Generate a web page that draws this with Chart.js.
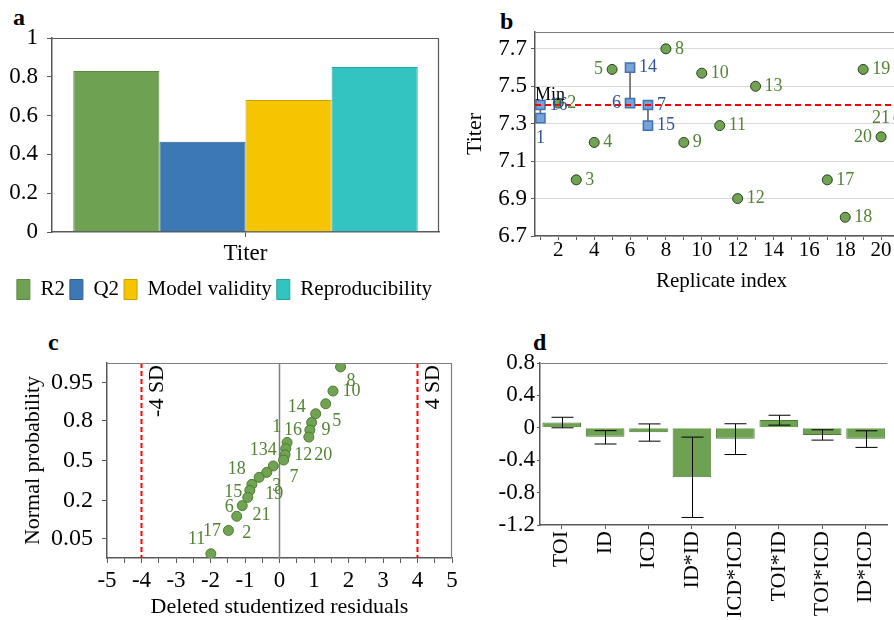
<!DOCTYPE html>
<html>
<head>
<meta charset="utf-8">
<script src="https://cdn.jsdelivr.net/npm/chart.js@4.4.1/dist/chart.umd.min.js"></script>
<style>
  html, body { margin: 0; padding: 0; background: #fff; }
  body { position: relative; width: 894px; height: 620px; overflow: hidden; font-family: 'Liberation Serif', 'Times New Roman', serif; }
  canvas { position: absolute; }
  .tag { position: absolute; font-weight: bold; font-size: 24px; line-height: 24px; }
</style>
</head>
<body>
<div class="tag" style="left:13px;top:5px">a</div>
<div class="tag" style="left:500px;top:9px">b</div>
<div class="tag" style="left:48px;top:330px">c</div>
<div class="tag" style="left:533px;top:330px">d</div>

<canvas id="fit" width="450" height="310" style="left:0;top:0"></canvas>
<canvas id="rep" width="460" height="300" style="left:460px;top:0"></canvas>
<canvas id="resid" width="470" height="290" style="left:0;top:330px"></canvas>
<canvas id="coef" width="404" height="310" style="left:490px;top:330px"></canvas>

<script>
// panel a - model summary
var fitCategories = ['Titer'];
var fitSeries = ['R2', 'Q2', 'Model validity', 'Reproducibility'];
var fitValues = [0.83, 0.465, 0.68, 0.85];
var fitTicks = [0, 0.2, 0.4, 0.6, 0.8, 1];

// panel b - replicate plot
var runIds = [2, 3, 4, 5, 8, 9, 10, 11, 12, 13, 17, 18, 19, 20, 21];
var runTiter = [7.41, 7.0, 7.2, 7.59, 7.7, 7.2, 7.57, 7.29, 6.9, 7.5, 7.0, 6.8, 7.59, 7.23, 7.33];
var repIds = [1, 16, 6, 14, 7, 15];
var repIndex = [1, 1, 6, 6, 7, 7];
var repTiter = [7.33, 7.40, 7.41, 7.60, 7.40, 7.29];
var minTiter = 7.4;
var titerTicks = [6.7, 6.9, 7.1, 7.3, 7.5, 7.7];
var indexTicks = [1, 2, 3, 4, 5, 6, 7, 8, 9, 10, 11, 12, 13, 14, 15, 16, 17, 18, 19, 20, 21];

// panel c - normal probability of residuals
var residValues = [1.77, 1.55, 1.34, 1.05, 0.93, 0.88, 0.85, 0.22, 0.18, 0.16, 0.12, -0.18, -0.37, -0.59, -0.80, -0.86, -0.92, -1.08, -1.24, -1.48, -1.99];
var residProb = [0.976, 0.929, 0.885, 0.839, 0.79, 0.741, 0.691, 0.65, 0.6, 0.55, 0.506, 0.456, 0.403, 0.363, 0.309, 0.266, 0.22, 0.172, 0.121, 0.071, 0.025];
var residLabelText = ['8', '10', '14', '5', '9', '1', '16', '134', '12', '20', '18', '7', '3', '19', '15', '6', '21', '17', '11', '2'];
var residLabelX = [2.07, 2.09, 0.5, 1.66, 1.35, -0.08, 0.39, -0.47, 0.69, 1.27, -1.24, 0.42, -0.08, -0.15, -1.34, -1.46, -0.52, -1.96, -2.4, -0.95];
var residLabelP = [0.952, 0.928, 0.87, 0.80, 0.742, 0.76, 0.74, 0.585, 0.542, 0.55, 0.43, 0.366, 0.295, 0.242, 0.255, 0.164, 0.127, 0.07, 0.05, 0.063];
var probTicks = [0.05, 0.2, 0.5, 0.8, 0.95];
var residTicks = [-5, -4.5, -4, -3.5, -3, -2.5, -2, -1.5, -1, -0.5, 0, 0.5, 1, 1.5, 2, 2.5, 3, 3.5, 4, 4.5, 5];
var sdLimit = 4;

// panel d - coefficients with confidence intervals
var termNames = ['TOI', 'ID', 'ICD', 'ID*ID', 'ICD*ICD', 'TOI*ID', 'TOI*ICD', 'ID*ICD'];
var termCoef = [0.065, -0.11, -0.055, -0.61, -0.135, 0.095, -0.088, -0.135];
var termLow = [0.0, -0.2, -0.165, -1.107, -0.33, 0.033, -0.152, -0.242];
var termHigh = [0.13, -0.035, 0.048, -0.115, 0.05, 0.155, -0.025, -0.037];
var coefTicks = [-1.2, -0.8, -0.4, 0, 0.4, 0.8];

var serif = "'Liberation Serif', 'Times New Roman', serif";
Chart.defaults.font.family = serif;
Chart.defaults.color = '#000';

var GREEN = '#6fa152';
var GREEN_TXT = '#548235';
var BLUE_TXT = '#2f5597';
var AXIS = '#595959';

// inverse normal (probability -> z) for the probability axis
function probit(p) {
  var q = p < 0.5 ? p : 1 - p;
  var t = Math.sqrt(-2 * Math.log(q));
  var z = t - (2.515517 + 0.802853 * t + 0.010328 * t * t) / (1 + 1.432788 * t + 0.189269 * t * t + 0.001308 * t * t * t);
  return p < 0.5 ? -z : z;
}

var framePlugin = {
  id: 'frame',
  afterDraw: function(chart, args, opts) {
    var a = chart.chartArea, ctx = chart.ctx;
    ctx.save();
    ctx.strokeStyle = opts.color || '#7f7f7f';
    ctx.lineWidth = 1.2;
    ctx.beginPath();
    (opts.sides || []).forEach(function(s) {
      if (s === 'top') { ctx.moveTo(a.left, a.top + 0.5); ctx.lineTo(a.right, a.top + 0.5); }
      if (s === 'right') { ctx.moveTo(a.right - 0.5, a.top); ctx.lineTo(a.right - 0.5, a.bottom); }
    });
    ctx.stroke();
    ctx.restore();
  }
};

function drawRefLines(chart, opts, when) {
  var ctx = chart.ctx, a = chart.chartArea;
  (opts.lines || []).forEach(function(l) {
    if ((l.after ? 'after' : 'before') !== when) return;
    ctx.save();
    ctx.strokeStyle = l.color;
    ctx.lineWidth = l.width;
    ctx.setLineDash(l.dash || []);
    ctx.beginPath();
    var px, py;
    if (l.axis === 'x') {
      px = chart.scales.x.getPixelForValue(l.value);
      ctx.moveTo(px, a.top); ctx.lineTo(px, a.bottom);
    } else {
      py = chart.scales.y.getPixelForValue(l.value);
      ctx.moveTo(a.left, py); ctx.lineTo(a.right, py);
    }
    ctx.stroke();
    ctx.setLineDash([]);
    if (l.text) {
      ctx.fillStyle = '#000';
      ctx.font = l.font;
      if (l.axis === 'x') {
        ctx.translate(px + 16, a.top + 2);
        ctx.rotate(-Math.PI / 2);
        ctx.textAlign = 'right';
        ctx.textBaseline = 'middle';
        ctx.fillText(l.text, 0, 0);
      } else {
        ctx.textAlign = 'left';
        ctx.textBaseline = 'middle';
        ctx.fillText(l.text, a.left, py - 10);
      }
    }
    ctx.restore();
  });
}

var refLinePlugin = {
  id: 'refLines',
  beforeDatasetsDraw: function(chart, args, opts) { drawRefLines(chart, opts, 'before'); },
  afterDatasetsDraw: function(chart, args, opts) { drawRefLines(chart, opts, 'after'); }
};

var pointLabelPlugin = {
  id: 'pointLabels',
  afterDatasetsDraw: function(chart, args, opts) {
    var ctx = chart.ctx;
    ctx.save();
    ctx.font = opts.font;
    ctx.textBaseline = 'middle';
    chart.data.datasets.forEach(function(ds, di) {
      if (!ds.ids) return;
      var meta = chart.getDatasetMeta(di);
      ctx.fillStyle = ds.labelColor;
      meta.data.forEach(function(pt, i) {
        var id = ds.ids[i];
        var side = opts.sides[id] || 'right';
        if (side === 'left') { ctx.textAlign = 'right'; ctx.fillText(id, pt.x - 9, pt.y); }
        else if (side === 'below') { ctx.textAlign = 'center'; ctx.fillText(id, pt.x, pt.y + 20); }
        else { ctx.textAlign = 'left'; ctx.fillText(id, pt.x + 9, pt.y); }
      });
    });
    ctx.restore();
  }
};

var textPlugin = {
  id: 'texts',
  afterDatasetsDraw: function(chart, args, opts) {
    var ctx = chart.ctx;
    ctx.save();
    ctx.font = opts.font;
    ctx.fillStyle = opts.color;
    ctx.textAlign = 'center';
    ctx.textBaseline = 'middle';
    opts.items.forEach(function(it) {
      ctx.fillText(it.text, chart.scales.x.getPixelForValue(it.x), chart.scales.y.getPixelForValue(it.y));
    });
    ctx.restore();
  }
};

var errorBarPlugin = {
  id: 'errorBars',
  afterDatasetsDraw: function(chart, args, opts) {
    var ctx = chart.ctx, y = chart.scales.y;
    var meta = chart.getDatasetMeta(0);
    ctx.save();
    ctx.strokeStyle = '#000';
    ctx.lineWidth = 1;
    meta.data.forEach(function(bar, i) {
      var x = Math.round(bar.x) + 0.5;
      var y1 = y.getPixelForValue(opts.low[i]);
      var y2 = y.getPixelForValue(opts.high[i]);
      ctx.beginPath();
      ctx.moveTo(x, y1); ctx.lineTo(x, y2);
      ctx.moveTo(x - 11, y1); ctx.lineTo(x + 11, y1);
      ctx.moveTo(x - 11, y2); ctx.lineTo(x + 11, y2);
      ctx.stroke();
    });
    ctx.restore();
  }
};

function fixedTicks(list) {
  return function(scale) {
    scale.ticks = list.map(function(v) { return { value: v }; });
  };
}

// ---------- panel a ----------
var fitColors = [GREEN, '#3c78b4', '#f5c502', '#33c4c1'];
var fitBorders = ['#5a8a40', '#2f5f8f', '#c9a000', '#27a3a0'];

new Chart(document.getElementById('fit'), {
  type: 'bar',
  data: {
    labels: fitCategories,
    datasets: fitSeries.map(function(name, i) {
      return { label: name, data: [fitValues[i]], backgroundColor: fitColors[i], borderColor: fitBorders[i], borderWidth: 1 };
    })
  },
  options: {
    responsive: false,
    animation: false,
    layout: { padding: { left: 10, right: 11, top: 38, bottom: 0 } },
    datasets: { bar: { categoryPercentage: 0.89, barPercentage: 1 } },
    plugins: {
      legend: { position: 'bottom', labels: { boxWidth: 13, boxHeight: 20, padding: 5, font: { size: 21 }, color: '#000' } },
      tooltip: { enabled: false },
      frame: { sides: ['top', 'right'], color: AXIS }
    },
    scales: {
      x: {
        grid: { offset: false, drawOnChartArea: false, tickLength: 5, color: AXIS },
        border: { color: AXIS, width: 1.5 },
        ticks: { font: { size: 23 }, color: '#000', padding: 3 },
        afterFit: function(s) { s.height = 42; }
      },
      y: {
        min: 0, max: 1,
        afterBuildTicks: fixedTicks(fitTicks),
        grid: { drawOnChartArea: false, tickLength: 5, color: AXIS },
        border: { color: AXIS, width: 1.5 },
        ticks: { font: { size: 23 }, color: '#000', padding: 9, callback: function(v) { return String(v); } },
        afterFit: function(s) { s.width = 42; }
      }
    }
  },
  plugins: [framePlugin]
});

// ---------- panel b ----------
var repPoints = repIds.map(function(id, i) { return { x: repIndex[i], y: repTiter[i] }; });
var runPoints = runIds.map(function(id, i) { return { x: id, y: runTiter[i] }; });

var repLinks = [];
repIndex.forEach(function(x, i) {
  var group = repLinks.filter(function(g) { return g.x === x; })[0];
  if (!group) { group = { x: x, pts: [] }; repLinks.push(group); }
  group.pts.push(repPoints[i]);
});

var repDatasets = [
  { data: repPoints, ids: repIds, labelColor: BLUE_TXT, pointStyle: 'rect', pointRadius: 6.5, backgroundColor: '#77a3d6', borderColor: '#3f72b5', borderWidth: 1.5 },
  { data: runPoints, ids: runIds, labelColor: GREEN_TXT, pointRadius: 5, backgroundColor: '#70a452', borderColor: '#2b3f1f', borderWidth: 1 }
];
repLinks.forEach(function(g) {
  repDatasets.push({ data: g.pts, showLine: true, pointRadius: 0, borderColor: '#595959', borderWidth: 1.5 });
});

new Chart(document.getElementById('rep'), {
  type: 'scatter',
  data: { datasets: repDatasets },
  options: {
    responsive: false,
    animation: false,
    layout: { padding: { left: 0, right: 12, top: 32, bottom: 0 } },
    plugins: {
      legend: { display: false },
      tooltip: { enabled: false },
      frame: { sides: ['top'], color: '#7f7f7f' },
      refLines: { lines: [{ axis: 'y', value: minTiter, color: '#ff0000', width: 2, dash: [6, 4], after: true, text: 'Min', font: '18px ' + serif }] },
      pointLabels: { font: '18px ' + serif, sides: { 5: 'left', 6: 'left', 20: 'left', 21: 'left', 1: 'below' } }
    },
    scales: {
      x: {
        type: 'linear', min: 0.7, max: 21.5,
        afterBuildTicks: fixedTicks(indexTicks),
        grid: { drawOnChartArea: false, tickLength: 4, color: AXIS },
        border: { color: AXIS, width: 1.5 },
        ticks: { font: { size: 21 }, color: '#000', padding: -2, autoSkip: false, maxRotation: 0, callback: function(v) { return v % 2 === 0 ? String(v) : ''; } },
        title: { display: true, text: 'Replicate index', font: { size: 21 }, color: '#000', padding: { top: 0, bottom: 6 } },
        afterFit: function(s) { s.height = 64; }
      },
      y: {
        min: 6.7, max: 7.79,
        afterBuildTicks: fixedTicks(titerTicks),
        grid: { drawOnChartArea: true, tickLength: 4, color: '#d9d9d9', tickColor: AXIS },
        border: { color: AXIS, width: 1.5 },
        ticks: { font: { size: 23 }, color: '#000', padding: 4, callback: function(v) { return v.toFixed(1); } },
        title: { display: true, text: 'Titer', font: { size: 22 }, color: '#000', padding: { top: 2, bottom: 0 } },
        afterFit: function(s) { s.width = 75; }
      }
    }
  },
  plugins: [framePlugin, refLinePlugin, pointLabelPlugin]
});

// ---------- panel c ----------
var residPoints = residValues.map(function(r, i) { return { x: r, y: probit(residProb[i]) }; });
var residLabels = residLabelText.map(function(t, i) { return { text: t, x: residLabelX[i], y: probit(residLabelP[i]) }; });

new Chart(document.getElementById('resid'), {
  type: 'scatter',
  data: { datasets: [{ data: residPoints, pointRadius: 5, backgroundColor: '#70a452', borderColor: '#4a7a30', borderWidth: 1 }] },
  options: {
    responsive: false,
    animation: false,
    layout: { padding: { left: 0, right: 18, top: 33, bottom: 0 } },
    plugins: {
      legend: { display: false },
      tooltip: { enabled: false },
      frame: { sides: ['top', 'right'], color: '#7f7f7f' },
      refLines: { lines: [
        { axis: 'x', value: 0, color: '#7f7f7f', width: 1.5 },
        { axis: 'x', value: -sdLimit, color: '#ff0000', width: 2, dash: [5, 3], text: '-' + sdLimit + ' SD', font: '22px ' + serif },
        { axis: 'x', value: sdLimit, color: '#ff0000', width: 2, dash: [5, 3], text: sdLimit + ' SD', font: '22px ' + serif }
      ] },
      texts: { font: '18px ' + serif, color: GREEN_TXT, items: residLabels }
    },
    scales: {
      x: {
        type: 'linear', min: -5, max: 5,
        afterBuildTicks: fixedTicks(residTicks),
        grid: { drawOnChartArea: false, tickLength: 5, color: AXIS },
        border: { color: AXIS, width: 1.5 },
        ticks: { font: { size: 23 }, color: '#000', padding: 4, autoSkip: false, maxRotation: 0, callback: function(v) { return Number.isInteger(v) ? String(v) : ''; } },
        title: { display: true, text: 'Deleted studentized residuals', font: { size: 22 }, color: '#000', padding: { top: 0, bottom: 0 } },
        afterFit: function(s) { s.height = 62; }
      },
      y: {
        min: -2.05, max: 2.06,
        afterBuildTicks: fixedTicks(probTicks.map(probit)),
        grid: { drawOnChartArea: false, tickLength: 5, color: AXIS },
        border: { color: AXIS, width: 1.5 },
        ticks: { font: { size: 24 }, color: '#000', padding: 9, callback: function(v, i) { return String(probTicks[i]); } },
        title: { display: true, text: 'Normal probability', font: { size: 22 }, color: '#000', padding: { top: 20, bottom: 0 } },
        afterFit: function(s) { s.width = 107; }
      }
    }
  },
  plugins: [framePlugin, refLinePlugin, textPlugin]
});

// ---------- panel d ----------
new Chart(document.getElementById('coef'), {
  type: 'bar',
  data: {
    labels: termNames,
    datasets: [{ data: termCoef, backgroundColor: GREEN, borderColor: '#4d7a35', borderWidth: 1 }]
  },
  options: {
    responsive: false,
    animation: false,
    layout: { padding: { left: 0, right: 0, top: 33, bottom: 0 } },
    datasets: { bar: { categoryPercentage: 1, barPercentage: 0.89 } },
    plugins: {
      legend: { display: false },
      tooltip: { enabled: false },
      frame: { sides: ['top'], color: '#7f7f7f' },
      errorBars: { low: termLow, high: termHigh }
    },
    scales: {
      x: {
        grid: { offset: false, drawOnChartArea: false, tickLength: 4, color: AXIS },
        border: { color: AXIS, width: 1.5 },
        ticks: { font: { size: 22 }, color: '#000', padding: 2, autoSkip: false, minRotation: 90, maxRotation: 90 },
        afterFit: function(s) { s.height = 115; }
      },
      y: {
        min: -1.2, max: 0.8,
        afterBuildTicks: fixedTicks(coefTicks),
        grid: { drawOnChartArea: false, tickLength: 3, color: AXIS },
        border: { color: AXIS, width: 1.5 },
        ticks: { font: { size: 23 }, color: '#000', padding: 2, callback: function(v) { return String(v); } },
        afterFit: function(s) { s.width = 50; }
      }
    }
  },
  plugins: [framePlugin, errorBarPlugin]
});
</script>
</body>
</html>
